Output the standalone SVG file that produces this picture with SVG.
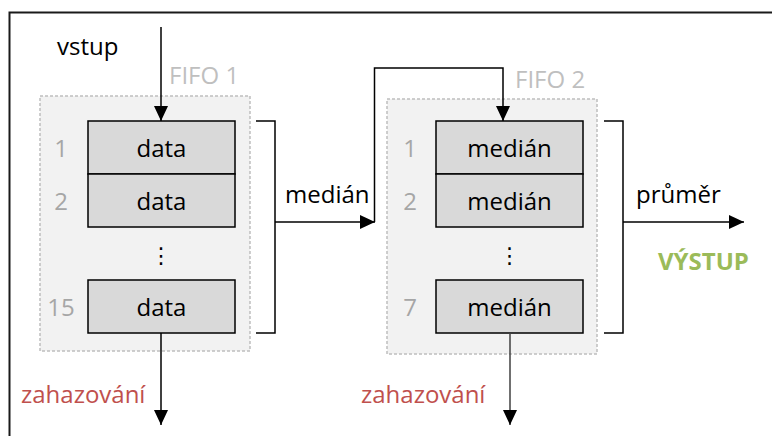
<svg xmlns="http://www.w3.org/2000/svg" width="772" height="436" viewBox="0 0 772 436">
<style>
  text { font-family: "Open Sans", "Noto Sans", "DejaVu Sans", sans-serif; font-size: 24px; }
  .lbl { fill: #000; }
  .cell { fill: #d9d9d9; stroke: #000; stroke-width: 1.5; }
  .fifo { fill: #f2f2f2; stroke: #bfbfbf; stroke-width: 1.5; stroke-dasharray: 3 2; }
  .idx { fill: #a6a6a6; text-anchor: middle; }
  .cap { fill: #bfbfbf; }
  .mid { text-anchor: middle; }
  .red { fill: #c0504d; }
  .green { fill: #9bbb59; font-weight: bold; }
  .wire { fill: none; stroke: #000; stroke-width: 1.5; }
  .gwire { fill: none; stroke: #404040; stroke-width: 1.5; }
  .dots { font-family: "DejaVu Sans", sans-serif; font-size: 22px; text-anchor: middle; }
</style>
<defs>
  <marker id="ah" viewBox="0 0 15 14" refX="15" refY="7" markerWidth="15" markerHeight="14" markerUnits="userSpaceOnUse" orient="auto">
    <path d="M0,0 L15,7 L0,14 Z" fill="#000"/>
  </marker>
</defs>
<rect x="0" y="0" width="772" height="436" fill="#fff"/>
<path d="M9.5,440 L9.5,12.5 L780,12.5" fill="none" stroke="#1a1a1a" stroke-width="2"/>

<g id="fifo1">
  <rect class="fifo" x="40" y="96" width="210" height="255"/>
  <text class="cap" x="169" y="84">FIFO 1</text>
  <rect class="cell" x="88" y="121" width="147" height="53"/>
  <rect class="cell" x="88" y="174" width="147" height="53"/>
  <rect class="cell" x="88" y="280" width="147" height="53"/>
  <text class="mid" x="161.5" y="157">data</text>
  <text class="mid" x="161.5" y="210">data</text>
  <text class="mid" x="161.5" y="316">data</text>
  <text class="idx" x="61" y="157">1</text>
  <text class="idx" x="61" y="210">2</text>
  <text class="idx" x="61" y="316">15</text>
  <text class="dots" x="161" y="263">⋮</text>
</g>

<g id="fifo2">
  <rect class="fifo" x="387" y="99" width="210" height="255"/>
  <text class="cap" x="515" y="88">FIFO 2</text>
  <rect class="cell" x="436" y="121" width="147" height="53"/>
  <rect class="cell" x="436" y="174" width="147" height="53"/>
  <rect class="cell" x="436" y="280" width="147" height="53"/>
  <text class="mid" x="509.5" y="157">medián</text>
  <text class="mid" x="509.5" y="210">medián</text>
  <text class="mid" x="509.5" y="316">medián</text>
  <text class="idx" x="410" y="157">1</text>
  <text class="idx" x="410" y="210">2</text>
  <text class="idx" x="410" y="316">7</text>
  <text class="dots" x="509.5" y="263">⋮</text>
</g>

<g id="labels">
  <text x="57" y="55">vstup</text>
  <text x="285" y="203">medián</text>
  <text x="636" y="203">průměr</text>
  <text class="green" x="658" y="270">VÝSTUP</text>
  <text class="red" x="21" y="403">zahazování</text>
  <text class="red" x="361" y="403">zahazování</text>
</g>

<g id="connectors">
  <line class="wire" x1="161" y1="27" x2="161" y2="121" marker-end="url(#ah)"/>
  <path class="wire" d="M256,121 H275 V333 H256"/>
  <line class="wire" x1="275" y1="222" x2="375" y2="222" marker-end="url(#ah)"/>
  <path class="wire" d="M374.5,222 V68 H503 V121" marker-end="url(#ah)"/>
  <path class="wire" d="M604,121 H623 V333 H604"/>
  <line class="wire" x1="623" y1="222" x2="744" y2="222" marker-end="url(#ah)"/>
  <line class="wire" x1="161" y1="333" x2="161" y2="425" marker-end="url(#ah)"/>
  <line class="gwire" x1="510" y1="333" x2="510" y2="425" marker-end="url(#ah)"/>
</g>
</svg>
